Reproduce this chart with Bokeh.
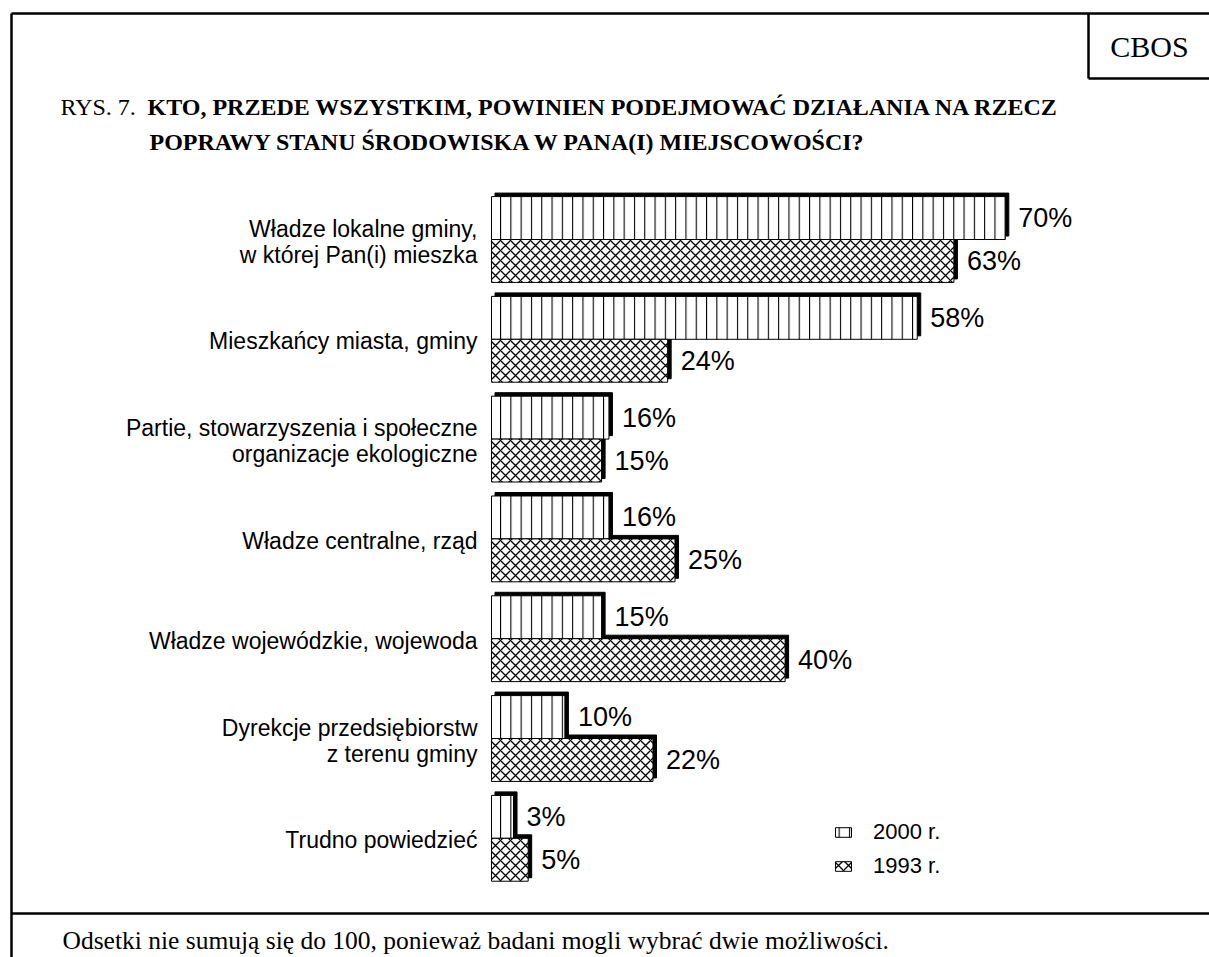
from bokeh.plotting import figure
from bokeh.models import Range1d, Legend, LegendItem
from bokeh.embed import file_html
from bokeh.resources import INLINE
from bokeh.core.properties import value

# ---------------- data ----------------
categories = [
    "Władze lokalne gminy,\nw której Pan(i) mieszka",
    "Mieszkańcy miasta, gminy",
    "Partie, stowarzyszenia i społeczne\norganizacje ekologiczne",
    "Władze centralne, rząd",
    "Władze wojewódzkie, wojewoda",
    "Dyrekcje przedsiębiorstw\nz terenu gminy",
    "Trudno powiedzieć",
]
values_2000 = [70, 58, 16, 16, 15, 10, 3]
values_1993 = [63, 24, 15, 25, 40, 22, 5]
series_labels = ["2000 r.", "1993 r."]

title_prefix = "RYS. 7."
title_line1 = "KTO, PRZEDE WSZYSTKIM, POWINIEN PODEJMOWAĆ DZIAŁANIA NA RZECZ"
title_line2 = "POPRAWY STANU ŚRODOWISKA W PANA(I) MIEJSCOWOŚCI?"
source_text = "CBOS"
footnote = "Odsetki nie sumują się do 100, ponieważ badani mogli wybrać dwie możliwości."

# ---------------- layout ----------------
W, H = 1209, 957
X0 = 491.0          # canvas px of 0 %
PX_PER_PCT = 7.34
Y0 = 239.0          # canvas px of first category centre
PX_PER_CAT = 99.8
BH = 0.43

x_start = -X0 / PX_PER_PCT
x_end = (W - X0) / PX_PER_PCT
y_top = -Y0 / PX_PER_CAT
y_bottom = (H - Y0) / PX_PER_CAT


def dx(px):
    return (px - X0) / PX_PER_PCT


def dy(py):
    return (py - Y0) / PX_PER_CAT


p = figure(width=W, height=H,
           x_range=Range1d(x_start, x_end), y_range=Range1d(y_bottom, y_top),
           x_axis_type=None, y_axis_type=None,
           toolbar_location=None, output_backend="svg",
           min_border=0, outline_line_color=None,
           background_fill_color="white", border_fill_color="white")

idx = list(range(len(categories)))
y2000 = [i - BH / 2 for i in idx]
y1993 = [i + BH / 2 for i in idx]

SX = 3.5 / PX_PER_PCT
SY = 3.5 / PX_PER_CAT

# shadows
p.hbar(y=[y - SY for y in y2000], left=SX, right=[v + SX for v in values_2000],
       height=BH, fill_color="black", line_color="black")
p.hbar(y=[y - SY for y in y1993], left=SX, right=[v + SX for v in values_1993],
       height=BH, fill_color="black", line_color="black")

r2000 = p.hbar(y=y2000, left=0, right=values_2000, height=BH,
               fill_color="white", line_color="black", line_width=1,
               hatch_pattern="vertical_line", hatch_color="black",
               hatch_scale=10.3, hatch_weight=1.1)
r1993 = p.hbar(y=y1993, left=0, right=values_1993, height=BH,
               fill_color="white", line_color="black", line_width=1,
               hatch_pattern="diagonal_cross", hatch_color="black",
               hatch_scale=10, hatch_weight=1.3)

sans = value("Liberation Sans")
serif = value("Liberation Serif")

# value labels
p.text(x=values_2000, y=y2000, text=[f"{v}%" for v in values_2000],
       x_offset=13, text_align="left", text_baseline="middle",
       text_font=sans, text_font_size="27px", text_color="black")
p.text(x=values_1993, y=y1993, text=[f"{v}%" for v in values_1993],
       x_offset=13, text_align="left", text_baseline="middle",
       text_font=sans, text_font_size="27px", text_color="black")

# category labels
p.text(x=[0] * len(idx), y=idx, text=categories,
       x_offset=-14, y_offset=2, text_align="right", text_baseline="middle",
       text_font=sans, text_font_size="23px", text_line_height=1.0,
       text_color="black")

# legend
legend = Legend(items=[LegendItem(label=series_labels[0], renderers=[r2000]),
                       LegendItem(label=series_labels[1], renderers=[r1993])],
                location=(833, 78), glyph_width=20, glyph_height=12,
                label_text_font="Liberation Sans", label_text_font_size="22px",
                label_text_color="black",
                label_standoff=20, spacing=8, padding=0, margin=0,
                border_line_color=None, background_fill_alpha=0)
p.add_layout(legend)

# title
p.text(x=[dx(60)], y=[dy(106)], text=[title_prefix], text_align="left",
       text_baseline="alphabetic", text_font=serif, text_font_size="24px",
       text_color="black")
p.text(x=[dx(147)], y=[dy(106)], text=[title_line1], text_align="left",
       text_baseline="alphabetic", text_font=serif, text_font_size="24px",
       text_font_style="bold", text_color="black")
p.text(x=[dx(149)], y=[dy(141)], text=[title_line2], text_align="left",
       text_baseline="alphabetic", text_font=serif, text_font_size="24px",
       text_font_style="bold", text_color="black")

# frame lines
LW = 2.5
p.segment(x0=[dx(11), dx(11), dx(11), dx(1088), dx(1088)],
          y0=[dy(13), dy(13), dy(913), dy(13), dy(78)],
          x1=[dx(11), dx(W + 5), dx(W + 5), dx(1088), dx(W + 5)],
          y1=[dy(H + 5), dy(13), dy(913), dy(78), dy(78)],
          line_color="black", line_width=LW)

# CBOS box text
p.text(x=[dx(1149)], y=[dy(46)], text=[source_text], text_align="center",
       text_baseline="middle", text_font=serif, text_font_size="30px",
       text_color="black")

# footnote
p.text(x=[dx(62)], y=[dy(940)], text=[footnote], text_align="left",
       text_baseline="middle", text_font=serif, text_font_size="25.5px",
       text_color="black")

open("out.html", "w").write(file_html(p, INLINE))
